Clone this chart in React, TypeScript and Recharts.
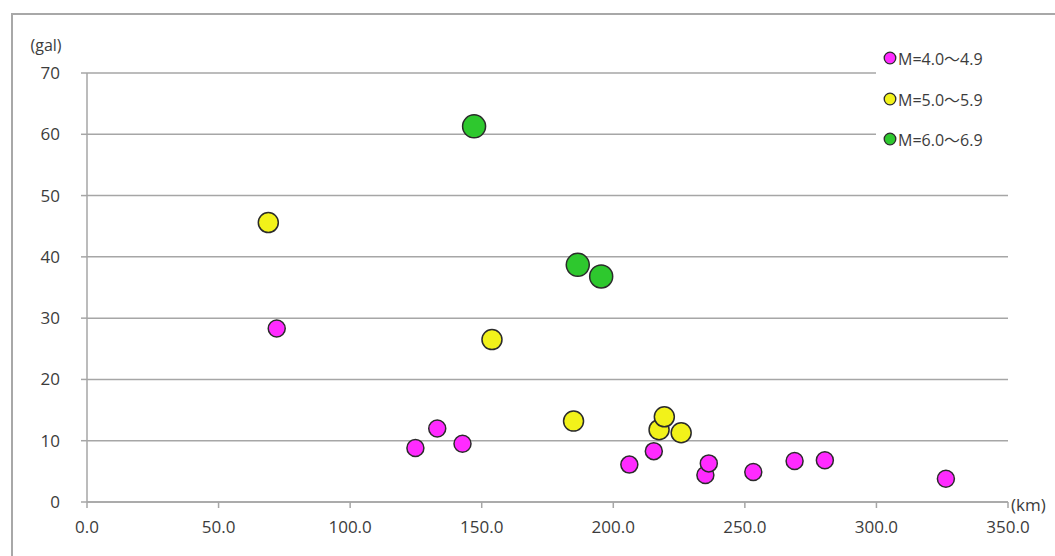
import { ScatterChart, Scatter, XAxis, YAxis, CartesianGrid } from 'recharts';

const xTicks = [0, 50, 100, 150, 200, 250, 300, 350];
const yTicks = [0, 10, 20, 30, 40, 50, 60, 70];

const m4Points = [
  { x: 72.1, y: 28.3 },
  { x: 124.8, y: 8.8 },
  { x: 133.1, y: 12.0 },
  { x: 142.7, y: 9.5 },
  { x: 206.1, y: 6.1 },
  { x: 215.4, y: 8.3 },
  { x: 235.0, y: 4.4 },
  { x: 236.3, y: 6.3 },
  { x: 253.2, y: 4.9 },
  { x: 268.9, y: 6.7 },
  { x: 280.4, y: 6.8 },
  { x: 326.4, y: 3.8 },
];

const m5Points = [
  { x: 68.9, y: 45.6 },
  { x: 153.9, y: 26.5 },
  { x: 184.9, y: 13.2 },
  { x: 217.4, y: 11.8 },
  { x: 219.4, y: 13.9 },
  { x: 225.8, y: 11.3 },
];

const m6Points = [
  { x: 147.1, y: 61.3 },
  { x: 186.5, y: 38.7 },
  { x: 195.4, y: 36.8 },
];

const series = [
  { name: 'M=4.0～4.9', data: m4Points, fill: '#ff2bff', r: 8.5 },
  { name: 'M=5.0～5.9', data: m5Points, fill: '#f2f21a', r: 10 },
  { name: 'M=6.0～6.9', data: m6Points, fill: '#2ec82e', r: 11.5 },
];

const font = '"Open Sans", "Noto Sans", "Noto Sans CJK JP", sans-serif';
const textColor = '#3c3c3c';
const lineColor = '#a6a6a6';

const dot = (fill: string, r: number) => (props: any) => (
  <circle cx={props.cx} cy={props.cy} r={r} fill={fill} stroke="#2b2b2b" strokeWidth={1.5} />
);

// legend drawn beside the chart so it doesn't squeeze the plot area
const LegendBox = () => (
  <div
    style={{
      position: 'absolute',
      left: 876,
      top: 38,
      width: 150,
      background: '#fff',
      padding: '0 0 10px 7px',
      fontFamily: font,
    }}
  >
    {series.map((s) => (
      <div key={s.name} style={{ display: 'flex', alignItems: 'center', height: 40.5, fontSize: 16, color: textColor }}>
        <svg width={14} height={14} style={{ marginRight: 1 }}>
          <circle cx={7} cy={7} r={5.8} fill={s.fill} stroke="#2b2b2b" strokeWidth={1.3} />
        </svg>
        <span>{s.name}</span>
      </div>
    ))}
  </div>
);

export default function App() {
  return (
    <div style={{ position: 'relative', width: 1055, height: 556, background: '#fff', overflow: 'hidden' }}>
      <style>{'body{margin:0;overflow:hidden}'}</style>
      <div
        style={{
          position: 'absolute',
          left: 11,
          top: 13,
          width: 1060,
          height: 560,
          border: '2px solid #a8a8a8',
        }}
      />
      <div style={{ position: 'absolute', left: 0, top: 0 }}>
        <ScatterChart width={1055} height={556} margin={{ top: 73, right: 47, bottom: 24, left: 0 }}>
          <CartesianGrid vertical={false} stroke={lineColor} strokeWidth={1.5} />
          <XAxis
            type="number"
            dataKey="x"
            domain={[0, 350]}
            ticks={xTicks}
            interval={0}
            height={30}
            tickFormatter={(v: number) => v.toFixed(1)}
            tick={{ fill: textColor, fontSize: 17, fontFamily: font }}
            tickSize={6}
            tickMargin={13}
            stroke={lineColor}
            strokeWidth={1.5}
          />
          <YAxis
            type="number"
            dataKey="y"
            domain={[0, 70]}
            ticks={yTicks}
            interval={0}
            width={87}
            tick={{ fill: textColor, fontSize: 17, fontFamily: font }}
            tickSize={6}
            tickMargin={21}
            stroke={lineColor}
            strokeWidth={1.5}
          />
          {series.map((s) => (
            <Scatter
              key={s.name}
              name={s.name}
              data={s.data}
              fill={s.fill}
              shape={dot(s.fill, s.r)}
              isAnimationActive={false}
            />
          ))}
          <text x={46} y={51} textAnchor="middle" fill={textColor} fontSize={16} fontFamily={font}>
            (gal)
          </text>
          <text x={1011} y={511} textAnchor="start" fill={textColor} fontSize={17} fontFamily={font}>
            (km)
          </text>
        </ScatterChart>
      </div>
      <LegendBox />
    </div>
  );
}
